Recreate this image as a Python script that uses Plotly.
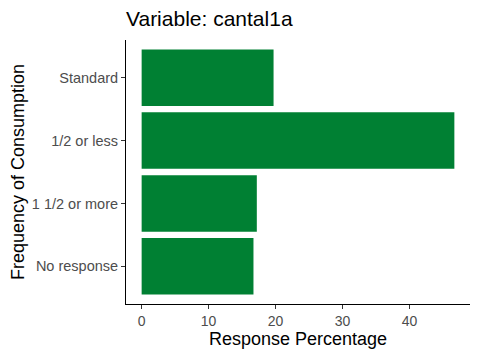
import plotly.graph_objects as go

categories = ["No response", "1 1/2 or more", "1/2 or less", "Standard"]
values = [16.7, 17.2, 46.7, 19.7]
x_ticks = [0, 10, 20, 30, 40]

bar_color = "#008033"
font_family = "Liberation Sans, Arial, sans-serif"

# page body has an 8px margin, so the figure is drawn 8px in from the corner
W, H = 472, 352

fig = go.Figure(
    go.Bar(
        x=values,
        y=categories,
        orientation="h",
        marker=dict(color=bar_color, line=dict(width=0)),
    )
)

vmax = max(values)
pad = vmax * 0.05

fig.update_layout(
    width=W,
    height=H,
    margin=dict(l=118, r=10, t=32, b=56, autoexpand=False),
    paper_bgcolor="white",
    plot_bgcolor="white",
    bargap=0.1,
    showlegend=False,
    font=dict(family=font_family, color="black"),
    title=dict(
        text="Variable: cantal1a",
        font=dict(size=21, color="black", family=font_family),
        x=118 / W,
        xref="container",
        xanchor="left",
        y=1 - 11 / H,
        yref="container",
        yanchor="middle",
    ),
    xaxis=dict(
        automargin=False,
        range=[-pad, vmax + pad],
        tickvals=x_ticks,
        ticktext=[str(t) for t in x_ticks],
        showgrid=False,
        zeroline=False,
        showline=True,
        linecolor="black",
        linewidth=1,
        ticks="outside",
        ticklen=4,
        tickcolor="#333333",
        tickfont=dict(size=14, color="#4D4D4D", family=font_family),
        title=dict(
            text="Response Percentage",
            font=dict(size=18, color="black", family=font_family),
            standoff=4,
        ),
    ),
    yaxis=dict(
        automargin=False,
        categoryorder="array",
        categoryarray=categories,
        range=[-0.6, len(categories) - 0.4],
        showgrid=False,
        zeroline=False,
        showline=True,
        linecolor="black",
        linewidth=1,
        ticks="outside",
        ticklen=4,
        tickcolor="#333333",
        tickfont=dict(size=14.5, color="#4D4D4D", family=font_family),
        title=dict(
            text="Frequency of Consumption",
            font=dict(size=18, color="black", family=font_family),
            standoff=4,
        ),
    ),
)

fig.write_html("out.html")
